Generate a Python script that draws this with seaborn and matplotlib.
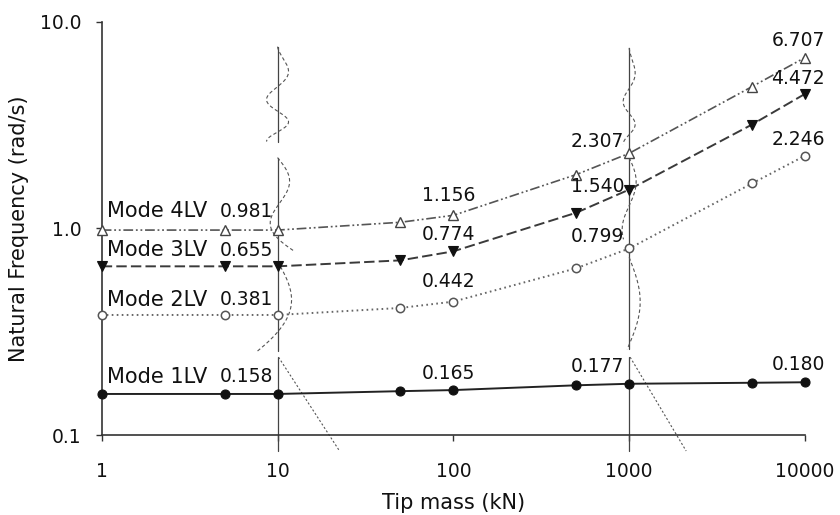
import numpy as np
import pandas as pd
import matplotlib
matplotlib.use("Agg")
import matplotlib.pyplot as plt
import seaborn as sns

# ---------------- data ----------------
tip_mass = [1, 5, 10, 50, 100, 500, 1000, 5000, 10000]
mode_1lv = [0.158, 0.158, 0.158, 0.163, 0.165, 0.174, 0.177, 0.179, 0.180]
mode_2lv = [0.381, 0.381, 0.381, 0.412, 0.442, 0.641, 0.799, 1.65, 2.246]
mode_3lv = [0.655, 0.655, 0.655, 0.700, 0.774, 1.19, 1.540, 3.18, 4.472]
mode_4lv = [0.981, 0.981, 0.981, 1.07, 1.156, 1.82, 2.307, 4.85, 6.707]
mode_names = ["Mode 1LV", "Mode 2LV", "Mode 3LV", "Mode 4LV"]
labelled_mass = [10, 100, 1000, 10000]
x_ticks = [1, 10, 100, 1000, 10000]
x_tick_labels = ["1", "10", "100", "1000", "10000"]
y_ticks = [0.1, 1.0, 10.0]
y_tick_labels = ["0.1", "1.0", "10.0"]
x_label = "Tip mass (kN)"
y_label = "Natural Frequency (rad/s)"

# ---------------- style ----------------
sns.set_style("white")
plt.rcParams["font.family"] = ["DejaVu Sans"]
plt.rcParams["lines.scale_dashes"] = False

FS_TICK = 13.5
FS_LABEL = 15
FS_ANN = 13.5
FS_MODE = 15

fig = plt.figure(figsize=(8.4, 5.15), dpi=100)
ax = fig.add_axes([0.1211, 0.1553, 0.8372, 0.8026])
ax.set_xscale("log")
ax.set_yscale("log")
ax.set_xlim(1, 10000)
ax.set_ylim(0.1, 10)

# ---------------- mode-shape sketches (decoration) ----------------
pos = ax.get_position()
px_per_xdec = pos.width * 840 / 4.0


def sketch(anchor, y_top, y_bot, offset_fn, dash=(2.5, 1.8)):
    t = np.linspace(0, 1, 200)
    ly = np.log10(y_top) + (np.log10(y_bot) - np.log10(y_top)) * t
    xs = anchor * 10 ** (offset_fn(t) / px_per_xdec)
    ax.plot(xs, 10 ** ly, color="#555555", lw=0.8, ls=(0, dash),
            clip_on=False, zorder=1)


def vline(anchor, y_top, y_bot):
    ax.plot([anchor, anchor], [y_top, y_bot], color="#444444", lw=0.9,
            clip_on=False, zorder=1)


for a, yt, yb in [(10, 7.57, 2.63), (10, 2.20, 0.255), (10, 0.238, 0.0837),
                  (1000, 7.47, 0.26), (1000, 0.238, 0.0837)]:
    vline(a, yt, yb)

sketch(10, 7.57, 2.63, lambda t: 11 * np.sin(3.5 * np.pi * t ** 1.45))
sketch(10, 2.20, 0.774, lambda t: 12 * np.sin(2 * np.pi * t) + 17 * t ** 4)
sketch(10, 0.693, 0.255, lambda t: 16 * np.sin(np.pi * t) - 20 * t ** 3)
sketch(10, 0.238, 0.0837, lambda t: 1 + 61 * t, dash=(1.5, 1.5))
sketch(1000, 7.47, 2.55, lambda t: 6 * np.sin(3.5 * np.pi * t ** 1.45))
sketch(1000, 2.20, 0.885, lambda t: 7 * np.sin(1.7 * np.pi * t))
sketch(1000, 0.724, 0.26, lambda t: 12 * np.sin(np.pi * t) - 2 * t)
sketch(1000, 0.238, 0.0837, lambda t: 1 + 56 * t, dash=(1.5, 1.5))

# ---------------- series ----------------
series = [mode_1lv, mode_2lv, mode_3lv, mode_4lv]
styles = [
    dict(color="#222222", ls="-", lw=1.4, marker="o", markersize=6.5,
         markerfacecolor="#111111", markeredgecolor="#111111", markeredgewidth=0.8),
    dict(color="#666666", ls=(0, (1.2, 2.4)), lw=1.4, marker="o", markersize=6,
         markerfacecolor="white", markeredgecolor="#555555", markeredgewidth=1.1),
    dict(color="#3a3a3a", ls=(0, (7.5, 3)), lw=1.4, marker="v", markersize=7.5,
         markerfacecolor="#111111", markeredgecolor="#111111", markeredgewidth=0.8),
    dict(color="#555555", ls=(0, (7, 2, 1.3, 2, 1.3, 2)), lw=1.2, marker="^",
         markersize=7.5, markerfacecolor="white", markeredgecolor="#444444",
         markeredgewidth=1.0),
]
for vals, st in zip(series, styles):
    sns.lineplot(x=tip_mass, y=vals, ax=ax, errorbar=None, zorder=3,
                 clip_on=False, **st)

# ---------------- annotations ----------------
PX = 0.72  # px -> pt
mode_dy = [17, 15, 16, 19]
value_offsets = {
    10: [(-4, 17, "right"), (-4, 15, "right"), (-4, 16, "right"), (-4, 19, "right")],
    100: [(-5, 17, "center"), (-5, 20, "center"), (-5, 17, "center"), (-5, 20, "center")],
    1000: [(-5, 17, "right"), (-5, 12, "right"), (-5, 3, "right"), (-5, 12, "right")],
    10000: [(-7, 18, "center"), (-7, 16, "center"), (-7, 15, "center"), (-7, 17, "center")],
}
for i, (name, vals) in enumerate(zip(mode_names, series)):
    ax.annotate(name, xy=(tip_mass[0], vals[0]), xytext=(5 * PX, mode_dy[i] * PX),
                textcoords="offset points", ha="left", va="center",
                fontsize=FS_MODE, color="#111111", zorder=5)
    for m in labelled_mass:
        v = vals[tip_mass.index(m)]
        dx, dy, ha = value_offsets[m][i]
        ax.annotate(f"{v:.3f}", xy=(m, v), xytext=(dx * PX, dy * PX),
                    textcoords="offset points", ha=ha, va="center",
                    fontsize=FS_ANN, color="#111111", zorder=5)

# ---------------- axes ----------------
ax.set_xticks(x_ticks)
ax.set_xticklabels(x_tick_labels)
ax.set_yticks(y_ticks)
ax.set_yticklabels(y_tick_labels)
ax.minorticks_off()
ax.tick_params(axis="x", direction="out", length=4.3, width=1.0, color="#333333",
               pad=15, labelsize=FS_TICK, labelcolor="#111111", bottom=True)
ax.tick_params(axis="y", direction="out", length=4.3, width=1.0, color="#333333",
               pad=10, labelsize=FS_TICK, labelcolor="#111111", left=True)
for side in ["top", "right"]:
    ax.spines[side].set_visible(False)
for side in ["left", "bottom"]:
    ax.spines[side].set_color("#333333")
    ax.spines[side].set_linewidth(1.2)
ax.set_xlabel(x_label, fontsize=FS_LABEL, color="#111111")
ax.set_ylabel(y_label, fontsize=FS_LABEL, color="#111111")
ax.xaxis.set_label_coords(0.5, -0.140)
ax.yaxis.set_label_coords(-0.103, 0.5)

fig.savefig("out.png", dpi=100)
